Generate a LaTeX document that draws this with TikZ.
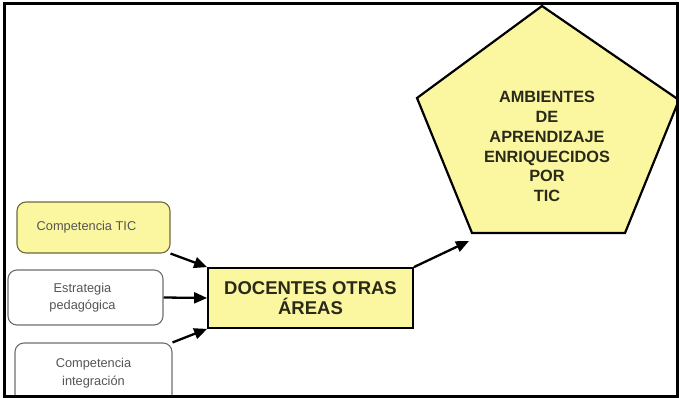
\documentclass[tikz,border=0pt]{standalone}
\usepackage{fontspec}
\setmainfont{Liberation Sans}
\usetikzlibrary{arrows.meta}
\definecolor{fillY}{HTML}{FBF7A0}
\definecolor{boxgray}{HTML}{6E6E6E}
\definecolor{ybord}{HTML}{6F6A3A}
\definecolor{txtgray}{HTML}{555555}
\definecolor{txtdark}{HTML}{2A2A18}
\begin{document}
\begin{tikzpicture}[x=1pt,y=-1pt,
  arr/.style={line width=2.3pt,-{Triangle[length=13pt,width=11pt]}},
  smallbox/.style={draw=boxgray,line width=1.1pt,rounded corners=9pt,inner sep=0pt,
    font=\fontsize{12.8}{17.5}\selectfont,text=txtgray,align=center},
  mainbox/.style={draw=black,line width=1.8pt,fill=fillY,inner sep=0pt,
    minimum width=205pt,minimum height=60pt,
    font=\bfseries\fontsize{18.5}{20}\selectfont,text=txtdark,align=center},
  penttext/.style={font=\bfseries\fontsize{16.3}{19.8}\selectfont,text=txtdark,align=center},
  frame/.style={draw=black,line width=3pt}]
\useasboundingbox (0,0) rectangle (679,398);
\begin{scope}
\clip (0,0) rectangle (679,398);
% pentagon
\coordinate (ptop) at (542,6);
\coordinate (pright) at (679,100);
\coordinate (pbr) at (625,233);
\coordinate (pbl) at (472,233);
\coordinate (pleft) at (417,98);
\draw[line width=2.2pt,fill=fillY,line join=miter] (ptop) -- (pright) -- (pbr) -- (pbl) -- (pleft) -- cycle;
\node[penttext] (pent) at (547,146.5) {AMBIENTES\\DE\\APRENDIZAJE\\ENRIQUECIDOS\\POR\\TIC};
% boxes
\node[smallbox,fill=fillY,draw=ybord,minimum width=153pt,minimum height=51pt] (tic) at (93.5,227.5) {Competencia TIC\hspace*{14pt}};
\node[smallbox,fill=white,minimum width=155pt,minimum height=55pt] (estr) at (85.5,297.5) {\raisebox{3pt}{\begin{tabular}{@{}c@{}}Estrategia\\pedagógica\end{tabular}}\hspace*{6pt}};
\node[smallbox,fill=white,minimum width=157pt,minimum height=60pt] (integ) at (93.5,373) {Competencia\\integración};
\node[mainbox] (main) at (310.5,298) {DOCENTES OTRAS\\ÁREAS};
\coordinate (pin) at (469,241);
% arrows
\draw[arr] (tic.south east) -- (main.north west);
\draw[arr] (estr.east) -- (main.west);
\draw[arr] (integ.north east) -- (main.south west);
\draw[arr] (main.north east) -- (pin);
\end{scope}
\draw[frame] (4.5,4) rectangle (677.5,396.5);
\end{tikzpicture}
\end{document}
